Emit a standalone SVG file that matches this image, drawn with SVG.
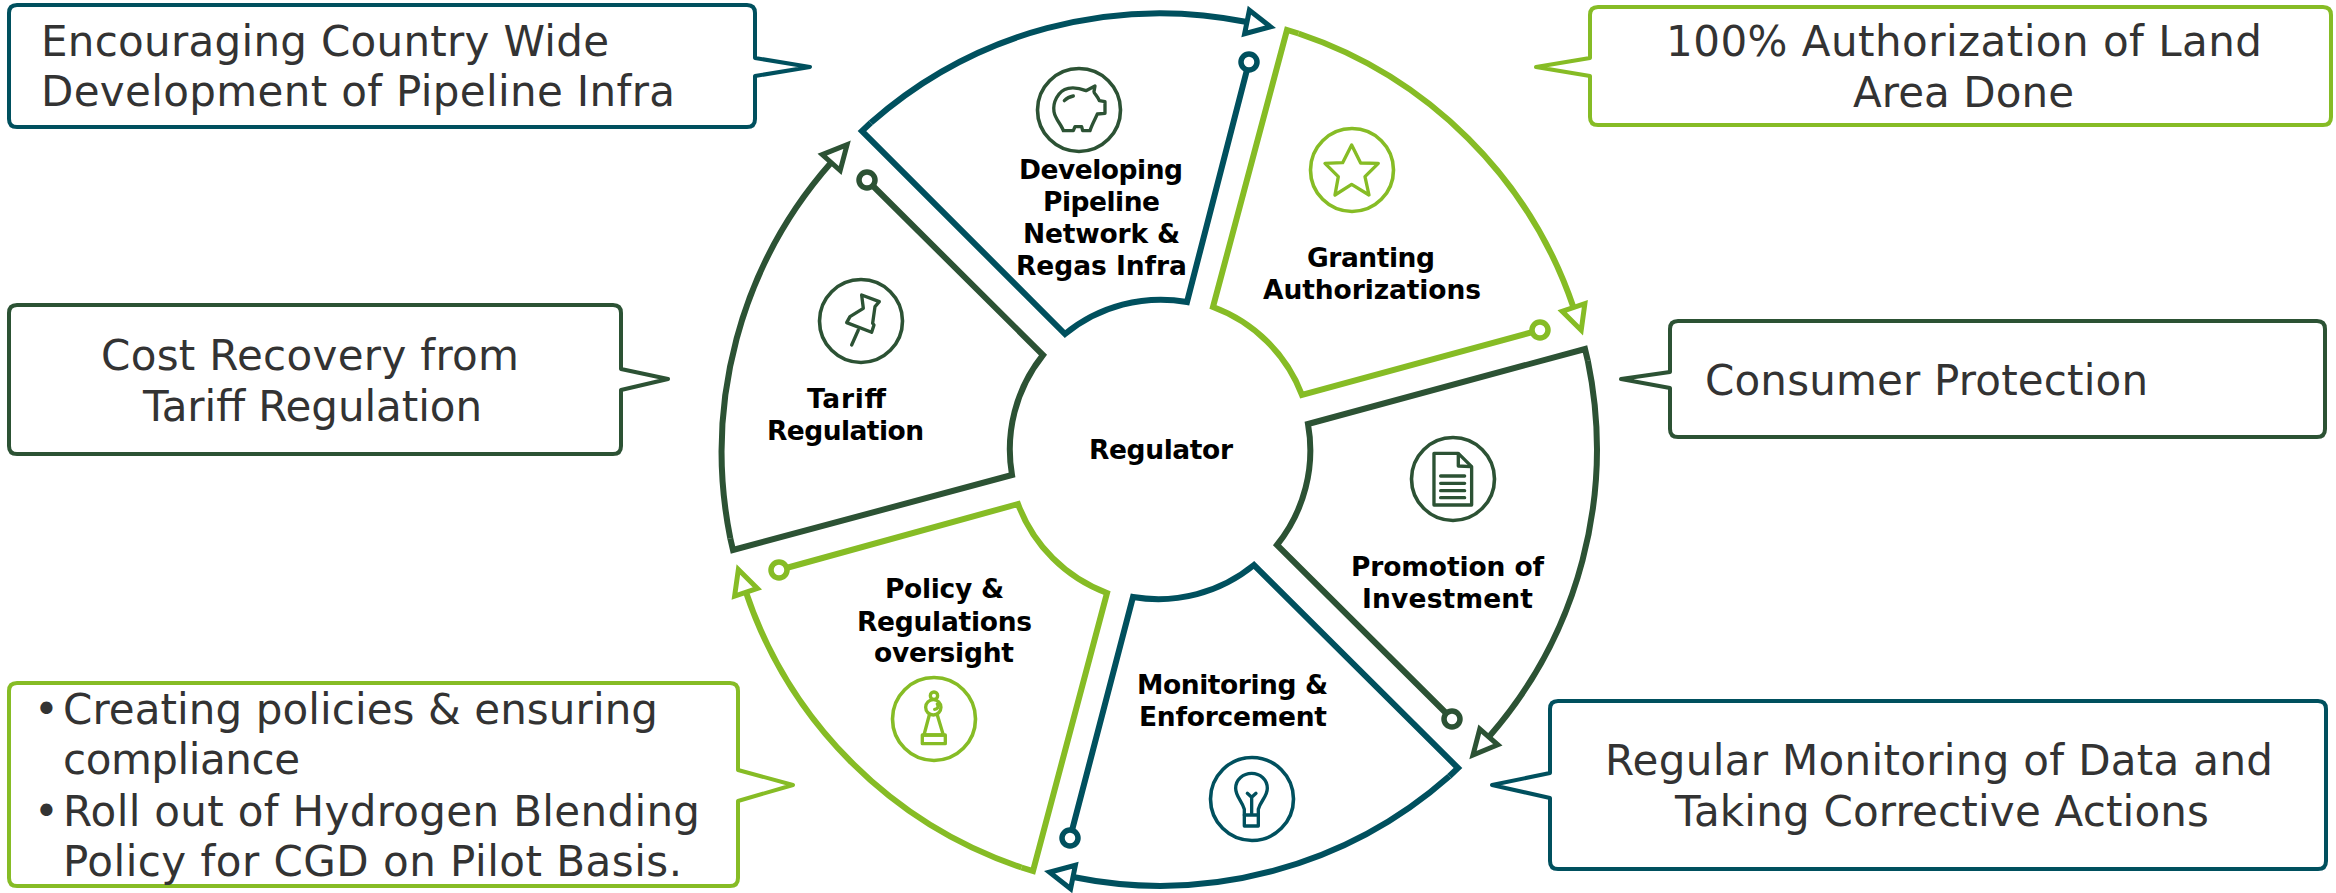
<svg xmlns="http://www.w3.org/2000/svg" width="2336" height="893" viewBox="0 0 2336 893">
<style>
.teal{stroke:#00505E}.dark{stroke:#2C5234}.lime{stroke:#86BC25}
.sec,.arc{fill:none;stroke-width:6;stroke-miterlimit:10}
.dot{fill:#fff;stroke-width:5.5}
.ring{fill:#fff;stroke-width:3.6}
.ico{fill:none;stroke-width:10;stroke-linejoin:round;stroke-linecap:round}
.call{fill:#fff;stroke-width:4;stroke-linejoin:round}
.lab{font-family:"DejaVu Sans","Liberation Sans",sans-serif;font-weight:700;font-size:26.5px;fill:#000}
.txt{font-family:"DejaVu Sans","Liberation Sans",sans-serif;font-size:42px;fill:#333}
</style>
<defs>
<marker id="aTeal" markerUnits="userSpaceOnUse" markerWidth="48" markerHeight="48" viewBox="-10 -24 48 48" refX="0" refY="0" orient="auto"><path d="M0,-12 L24,0 L0,12 Z" fill="#fff" stroke="#00505E" stroke-width="5"/></marker>
<marker id="aDark" markerUnits="userSpaceOnUse" markerWidth="48" markerHeight="48" viewBox="-10 -24 48 48" refX="0" refY="0" orient="auto"><path d="M0,-12 L24,0 L0,12 Z" fill="#fff" stroke="#2C5234" stroke-width="5"/></marker>
<marker id="aLime" markerUnits="userSpaceOnUse" markerWidth="48" markerHeight="48" viewBox="-10 -24 48 48" refX="0" refY="0" orient="auto"><path d="M0,-12 L24,0 L0,12 Z" fill="#fff" stroke="#86BC25" stroke-width="5"/></marker>
</defs>
<g id="connectors">
<path class="arc teal" marker-end="url(#aTeal)" d="M870.8,122.8 A437,437 0 0 1 1247,22"/>
<path class="arc lime" marker-end="url(#aLime)" d="M1298.5,33.5 A437,437 0 0 1 1573.5,307.5"/>
<path class="arc dark" marker-end="url(#aDark)" d="M1587.8,360.7 A437,437 0 0 1 1488.8,736.9"/>
<path class="arc teal" marker-end="url(#aTeal)" d="M1449.3,776.2 A437,437 0 0 1 1073,877"/>
<path class="arc lime" marker-end="url(#aLime)" d="M1021.5,867.5 A437,437 0 0 1 746,592.2"/>
<path class="arc dark" marker-end="url(#aDark)" d="M730.3,538.3 A437,437 0 0 1 831.2,162.6"/>
</g>
<g id="regulator"><text class="lab" x="1089" y="459" textLength="144">Regulator</text></g>
<g id="sector-developing">
<path class="sec teal" d="M1249,62 L1187,302 A151,151 0 0 0 1065,334 L862,131 L870.8,122.8"/>
<circle class="dot teal" cx="1249" cy="62" r="8"/>
<circle class="ring dark" cx="1079" cy="110" r="41.5"/>
<g class="ico dark" transform="translate(980,60) scale(0.3333)"><path d="M345,78 L318,92 C300,85 280,82 265,85 C232,92 218,130 222,155 C226,178 245,195 250,212 L280,212 L285,200 L305,200 L308,212 L330,212 C335,195 350,168 352,162 L375,160 L375,125 L358,122 C352,108 342,100 342,95 Z"/><path d="M253,122 C262,113 270,110 280,108"/></g>
<text class="lab" x="1019" y="179" textLength="164">Developing</text>
<text class="lab" x="1043" y="211" textLength="117">Pipeline</text>
<text class="lab" x="1023" y="243" textLength="157">Network &amp;</text>
<text class="lab" x="1016" y="275" textLength="171">Regas Infra</text>
</g>
<g id="sector-granting">
<path class="sec lime" d="M1540,330 L1302,395 A151,151 0 0 0 1213,307 L1287,30 L1298.5,33.5"/>
<circle class="dot lime" cx="1540" cy="330" r="8"/>
<circle class="ring lime" cx="1352" cy="170" r="41.5"/>
<g class="ico lime" transform="translate(1150,0) scale(0.3333)"><path d="M605,435 L632,489 L685,490 L645,530 L657,585 L605,553 L555,585 L565,530 L525,490 L578,488 Z"/></g>
<text class="lab" x="1307" y="267" textLength="128">Granting</text>
<text class="lab" x="1263" y="299" textLength="218">Authorizations</text>
</g>
<g id="sector-promotion">
<path class="sec dark" d="M1452,719 L1277,545 A151,151 0 0 0 1308,424 L1585,349 L1587.8,360.7"/>
<circle class="dot dark" cx="1452" cy="719" r="8"/>
<circle class="ring dark" cx="1453" cy="479" r="41.5"/>
<g class="ico dark" transform="translate(1150,450) scale(0.3333)"><path d="M852,10 L925,10 L965,50 L965,165 L852,165 Z"/><path d="M925,12 L925,48 L963,50"/><path d="M872,78 H944 M872,100 H944 M872,122 H944 M872,143 H944"/></g>
<text class="lab" x="1351" y="576" textLength="193">Promotion of</text>
<text class="lab" x="1362" y="608" textLength="171">Investment</text>
</g>
<g id="sector-monitoring">
<path class="sec teal" d="M1070,838 L1133,597 A151,151 0 0 0 1254,565 L1458,768 L1449.3,776.2"/>
<circle class="dot teal" cx="1070" cy="838" r="8"/>
<circle class="ring teal" cx="1252" cy="799" r="41.5"/>
<g class="ico teal" transform="translate(1150,450) scale(0.3333)"><path d="M283,1095 L283,1078 C275,1050 257,1040 257,1015 C257,988 280,970 305,970 C330,970 352,988 352,1015 C352,1040 333,1050 325,1078 L325,1095 Z"/><path d="M283,1095 L283,1128 L325,1128 L325,1095"/><path d="M305,1090 L305,1040 M292,1030 L305,1042 L318,1030"/></g>
<text class="lab" x="1137" y="694" textLength="191">Monitoring &amp;</text>
<text class="lab" x="1139" y="726" textLength="188">Enforcement</text>
</g>
<g id="sector-policy">
<path class="sec lime" d="M779,570 L1018,504 A151,151 0 0 0 1107,593 L1033,871 L1021.5,867.5"/>
<circle class="dot lime" cx="779" cy="570" r="8"/>
<circle class="ring lime" cx="934" cy="719" r="41.5"/>
<g class="ico lime" transform="translate(700,450) scale(0.3333)"><circle cx="702" cy="737" r="11"/><circle cx="700" cy="772" r="23"/><path d="M712,762 C718,770 712,778 704,778"/><path d="M688,795 L672,855 L730,855 L712,795"/><rect x="667" y="855" width="69" height="26"/></g>
<text class="lab" x="885" y="598" textLength="119">Policy &amp;</text>
<text class="lab" x="857" y="631" textLength="175">Regulations</text>
<text class="lab" x="874" y="662" textLength="140">oversight</text>
</g>
<g id="sector-tariff">
<path class="sec dark" d="M867,180 L1043,355 A151,151 0 0 0 1012,475 L733,550 L730.3,538.3"/>
<circle class="dot dark" cx="867" cy="180" r="8"/>
<circle class="ring dark" cx="861" cy="321" r="41.5"/>
<g class="ico dark" transform="translate(700,0) scale(0.3333)"><path d="M485,885 L538,905 L525,920 L518,970 L522,975 L515,997 L440,968 L450,950 L490,925 Z"/><path d="M475,990 L455,1035"/></g>
<text class="lab" x="807" y="408" textLength="79">Tariff</text>
<text class="lab" x="767" y="440" textLength="157">Regulation</text>
</g>
<g id="callout-pipeline">
<path class="call teal" d="M17,5 H747 Q755,5 755,13 V58 L810,67 L755,76 V119 Q755,127 747,127 H17 Q9,127 9,119 V13 Q9,5 17,5 Z"/>
<text class="txt" x="41" y="56" textLength="568">Encouraging Country Wide</text>
<text class="txt" x="41" y="106" textLength="634">Development of Pipeline Infra</text>
</g>
<g id="callout-authorization">
<path class="call lime" d="M1598,7 H2323 Q2331,7 2331,15 V117 Q2331,125 2323,125 H1598 Q1590,125 1590,117 V76 L1536,67 L1590,58 V15 Q1590,7 1598,7 Z"/>
<text class="txt" x="1666" y="56" textLength="596">100% Authorization of Land</text>
<text class="txt" x="1853" y="107" textLength="221">Area Done</text>
</g>
<g id="callout-consumer">
<path class="call dark" d="M1678,321 H2317 Q2325,321 2325,329 V429 Q2325,437 2317,437 H1678 Q1670,437 1670,429 V388 L1621,379 L1670,372 V329 Q1670,321 1678,321 Z"/>
<text class="txt" x="1705" y="395" textLength="443">Consumer Protection</text>
</g>
<g id="callout-monitoring">
<path class="call teal" d="M1558,701 H2318 Q2326,701 2326,709 V861 Q2326,869 2318,869 H1558 Q1550,869 1550,861 V798 L1492,785 L1550,773 V709 Q1550,701 1558,701 Z"/>
<text class="txt" x="1605" y="775" textLength="668">Regular Monitoring of Data and</text>
<text class="txt" x="1675" y="826" textLength="534">Taking Corrective Actions</text>
</g>
<g id="callout-tariff">
<path class="call dark" d="M17,305 H613 Q621,305 621,313 V369 L668,379 L621,390 V446 Q621,454 613,454 H17 Q9,454 9,446 V313 Q9,305 17,305 Z"/>
<text class="txt" x="101" y="370" textLength="418">Cost Recovery from</text>
<text class="txt" x="143" y="421" textLength="339">Tariff Regulation</text>
</g>
<g id="callout-policy">
<path class="call lime" d="M17,683 H730 Q738,683 738,691 V770 L793,785 L738,801 V878 Q738,886 730,886 H17 Q9,886 9,878 V691 Q9,683 17,683 Z"/>
<text class="txt" x="34" y="724">•</text>
<text class="txt" x="63" y="724" textLength="595">Creating policies &amp; ensuring</text>
<text class="txt" x="63" y="774" textLength="237">compliance</text>
<text class="txt" x="34" y="826">•</text>
<text class="txt" x="63" y="826" textLength="637">Roll out of Hydrogen Blending</text>
<text class="txt" x="63" y="876" textLength="619">Policy for CGD on Pilot Basis.</text>
</g>
</svg>
